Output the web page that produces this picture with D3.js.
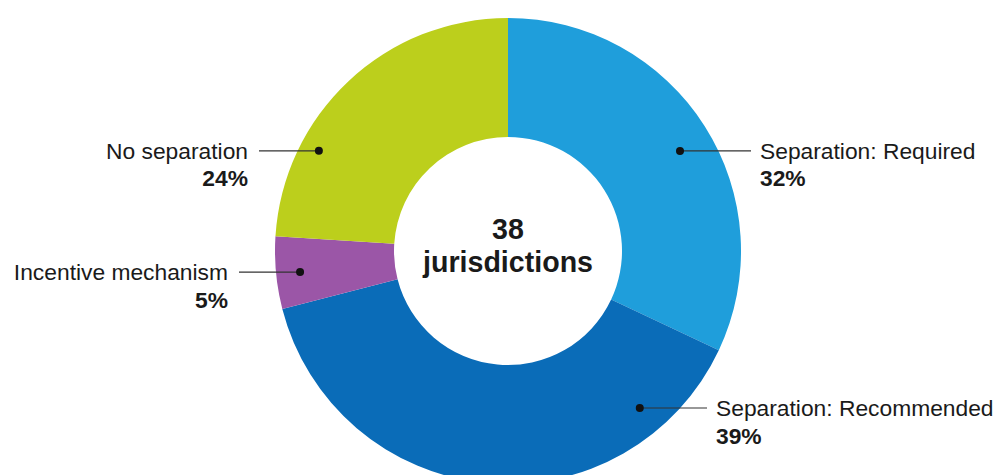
<script src="https://d3js.org/d3.v7.min.js"></script>

<html>
<head>
<style>
  body { margin: 0; background: #fff; }
  text { font-family: "Liberation Sans", Arial, sans-serif; fill: #1a1a1a; }
</style>
</head>
<body>
<div id="myPlot"></div>
</body>
<script>

    const width = 997;
    const height = 475;

    // data (share of 38 jurisdictions)
    const categories = ['Separation: Required', 'Separation: Recommended', 'Incentive mechanism', 'No separation'];
    const shares = [32, 39, 5, 24];
    const colors = ['#1f9edb', '#0a6cb8', '#9b56a7', '#bccf1c'];
    const centerLines = ['38', 'jurisdictions'];

    // where each callout sits: dot angle (deg, clockwise from top), dot radius, text x, side
    const callouts = [
        {angle: 59.8, r: 199, tx: 760, side: 'right'},
        {angle: 140, r: 205, tx: 716, side: 'right'},
        {angle: 264.2, r: 209, tx: 228, side: 'left'},
        {angle: 297.9, r: 214, tx: 248, side: 'left'},
    ];

    const cx = 508, cy = 251;
    const outerR = 233, innerR = 114;

    const svg = d3.select('#myPlot').append('svg')
        .attr('width', width)
        .attr('height', height);

    const g = svg.append('g')
        .attr('transform', 'translate(' + cx + ',' + cy + ')');

    const pie = d3.pie().sort(null).value(d => d);
    const arc = d3.arc().innerRadius(innerR).outerRadius(outerR);
    const arcs = pie(shares);

    g.selectAll('path.slice')
        .data(arcs)
        .enter()
        .append('path')
        .attr('class', 'slice')
        .attr('d', arc)
        .attr('fill', (d, i) => colors[i]);

    // callouts
    const lab = g.selectAll('g.lab')
        .data(arcs)
        .enter()
        .append('g')
        .attr('class', 'lab');

    lab.each(function (d, i) {
        const c = callouts[i];
        const a = c.angle * Math.PI / 180;
        const px = Math.sin(a) * c.r;
        const py = -Math.cos(a) * c.r;
        const tx = c.tx - cx;
        const lineEnd = c.side === 'right' ? tx - 9 : tx + 11;
        const sel = d3.select(this);
        sel.append('line')
            .attr('x1', px).attr('y1', py)
            .attr('x2', lineEnd).attr('y2', py)
            .attr('stroke', '#333')
            .attr('stroke-width', 1.1);
        sel.append('circle')
            .attr('cx', px).attr('cy', py)
            .attr('r', 4)
            .attr('fill', '#111');
        const anchor = c.side === 'right' ? 'start' : 'end';
        sel.append('text')
            .attr('x', tx).attr('y', py + 8)
            .attr('text-anchor', anchor)
            .style('font-size', '22.8px')
            .text(categories[i]);
        sel.append('text')
            .attr('x', tx).attr('y', py + 35.5)
            .attr('text-anchor', anchor)
            .style('font-size', '22.8px')
            .style('font-weight', 'bold')
            .text(shares[i] + '%');
    });

    // centre text
    g.selectAll('text.center')
        .data(centerLines)
        .enter()
        .append('text')
        .attr('class', 'center')
        .attr('x', 0)
        .attr('y', (d, i) => -12 + i * 33)
        .attr('text-anchor', 'middle')
        .style('font-size', '28.6px')
        .style('font-weight', 'bold')
        .text(d => d);

</script>
</html>
